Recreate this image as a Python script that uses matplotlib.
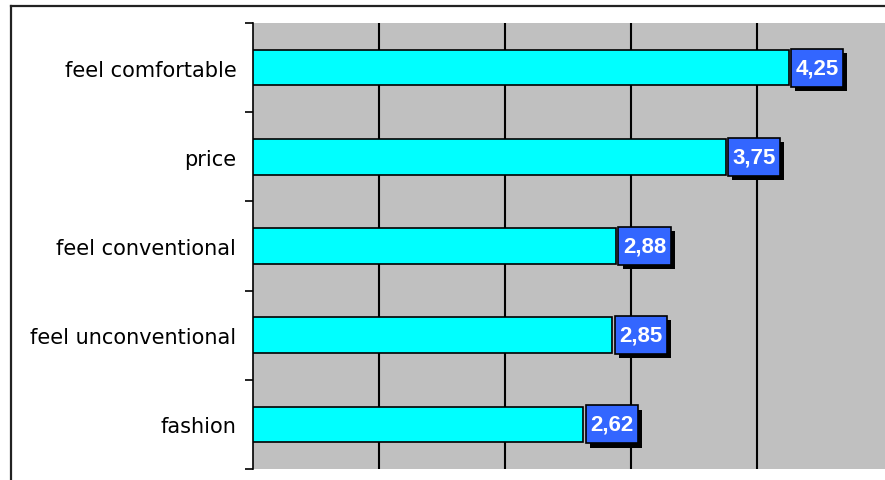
import matplotlib
matplotlib.use("Agg")
import matplotlib.pyplot as plt
import matplotlib.patheffects as pe
from matplotlib.lines import Line2D
from matplotlib.path import Path

# data (bottom to top)
categories = ["fashion", "feel unconventional", "feel conventional", "price", "feel comfortable"]
values = [2.62, 2.85, 2.88, 3.75, 4.25]
value_labels = ["2,62", "2,85", "2,88", "3,75", "4,25"]

W, H = 885, 481
fig = plt.figure(figsize=(W / 100, H / 100), dpi=100)
fig.patch.set_facecolor("white")

# outer chart frame (only left and top edges are visible in the crop)
fx, fy = 10.5 / W, 1 - 6.5 / H
fig.add_artist(Line2D([fx, fx], [0, fy], transform=fig.transFigure, color="#222222", lw=1.6))
fig.add_artist(Line2D([fx, 1], [fy, fy], transform=fig.transFigure, color="#222222", lw=1.6))

ax = fig.add_axes([253 / W, 11 / H, (W - 253) / W, 446 / H])
ax.set_facecolor("#C0C0C0")

ypos = list(range(len(categories)))
ax.barh(ypos, values, height=0.4, color="#00FFFF", edgecolor="black", linewidth=1.2, zorder=3)

ax.set_xlim(0, (W - 253) / 126)
ax.set_ylim(-0.5, len(categories) - 0.5)

# vertical grid lines
for gx in [1, 2, 3, 4]:
    ax.axvline(gx, color="black", lw=1.5, zorder=1)

# category ticks at boundaries, labels at centres
ax.set_yticks([i - 0.5 for i in range(len(categories) + 1)])
ax.set_yticklabels([])
ax.tick_params(axis="y", which="major", length=6, width=1.2, color="black")
ax.set_yticks(ypos, minor=True)
ax.set_yticklabels(categories, minor=True, fontsize=15, family="DejaVu Sans")
ax.tick_params(axis="y", which="minor", length=0, pad=12)
ax.set_xticks([])

for side in ["top", "right", "bottom"]:
    ax.spines[side].set_visible(False)
ax.spines["left"].set_color("black")
ax.spines["left"].set_linewidth(1.2)


def label_box(x0, y0, width, height, mutation_size):
    # wider vertical padding than horizontal, like the original labels
    px = 0.2 * mutation_size
    py = 0.38 * mutation_size
    x0, y0 = x0 - px, y0 - py
    x1, y1 = x0 + width + 2 * px, y0 + height + 2 * py
    return Path([(x0, y0), (x1, y0), (x1, y1), (x0, y1), (x0, y0)], closed=True)


# value labels in blue boxes with shadow
for y, v, lab in zip(ypos, values, value_labels):
    t = ax.annotate(lab, xy=(v, y), xytext=(7, 0), textcoords="offset pixels",
                    ha="left", va="center", color="white", fontsize=16, fontweight="bold",
                    family="Liberation Sans", zorder=5,
                    bbox=dict(boxstyle=label_box, facecolor="#3366FF",
                              edgecolor="black", linewidth=1.2))
    t.get_bbox_patch().set_path_effects([
        pe.SimplePatchShadow(offset=(3, -3), shadow_rgbFace="black", alpha=1.0),
        pe.Normal()])

fig.savefig("out.png", dpi=100)
